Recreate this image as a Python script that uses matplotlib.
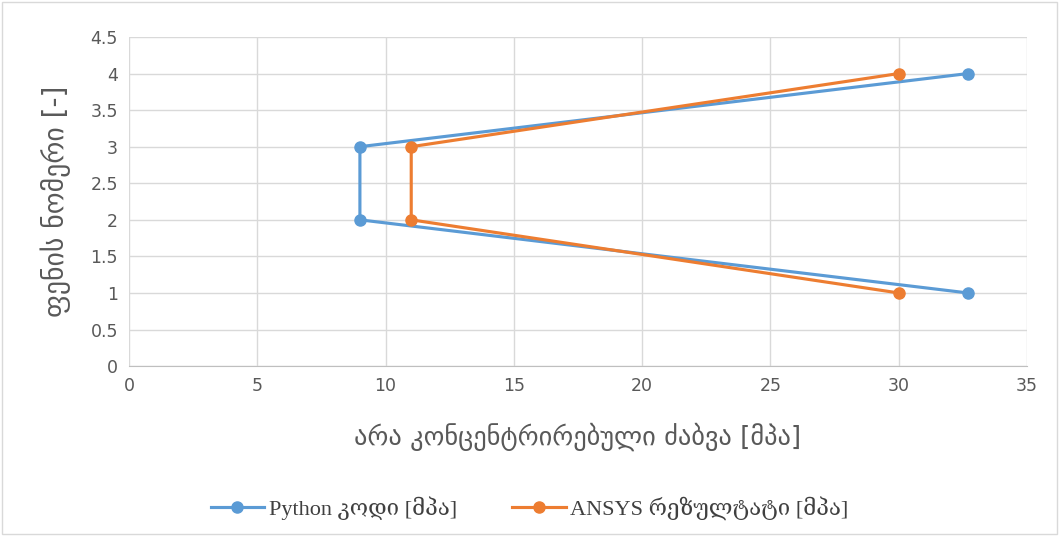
import matplotlib
matplotlib.use('Agg')
import matplotlib.pyplot as plt

layers = [4, 3, 2, 1]
python_stress = [32.7, 9.0, 9.0, 32.7]
ansys_stress = [30.0, 11.0, 11.0, 30.0]

x_ticks = [0, 5, 10, 15, 20, 25, 30, 35]
y_ticks = [0, 0.5, 1, 1.5, 2, 2.5, 3, 3.5, 4, 4.5]

fig = plt.figure(figsize=(10.59, 5.36), dpi=100)
ax = fig.add_axes([0.1218, 0.317, 0.848, 0.614])

ax.plot(python_stress, layers, color='#5B9BD5', lw=2.25, marker='o', ms=8,
        label='Python კოდი [მპა]', zorder=3)
ax.plot(ansys_stress, layers, color='#ED7D31', lw=2.25, marker='o', ms=8,
        label='ANSYS რეზულტატი [მპა]', zorder=3)

ax.set_xlim(0, 35)
ax.set_ylim(0, 4.5)
ax.set_xticks(x_ticks)
ax.set_yticks(y_ticks)
ax.set_xticklabels([str(t) for t in x_ticks])
ax.set_yticklabels([('%g' % t) for t in y_ticks])
ax.grid(True, color='#D9D9D9', lw=1)
ax.set_axisbelow(True)
for s in ['top', 'right', 'left']:
    ax.spines[s].set_visible(False)
ax.spines['bottom'].set_color('#BFBFBF')
ax.tick_params(length=0, labelsize=12.5, colors='#595959', pad=8)

ax.set_xlabel('არა კონცენტრირებული ძაბვა [მპა]', fontsize=19, color='#595959',
              labelpad=20, family=['DejaVu Sans'])
ax.set_ylabel('ფენის ნომერი [-]', fontsize=20, color='#595959',
              labelpad=14, family=['DejaVu Sans'])

leg = fig.legend(loc='lower center', bbox_to_anchor=(0.5, -0.008), ncol=2,
                 frameon=False, handlelength=2.4, handletextpad=0.2,
                 columnspacing=2.5,
                 prop={'family': ['Liberation Serif', 'DejaVu Serif'], 'size': 16})
for t in leg.get_texts():
    t.set_color('#404040')

fig.patches.append(plt.Rectangle((0.002, 0.003), 0.996, 0.994, transform=fig.transFigure,
                                 fill=False, edgecolor='#D9D9D9', lw=1))

fig.savefig('out.png', dpi=100)
